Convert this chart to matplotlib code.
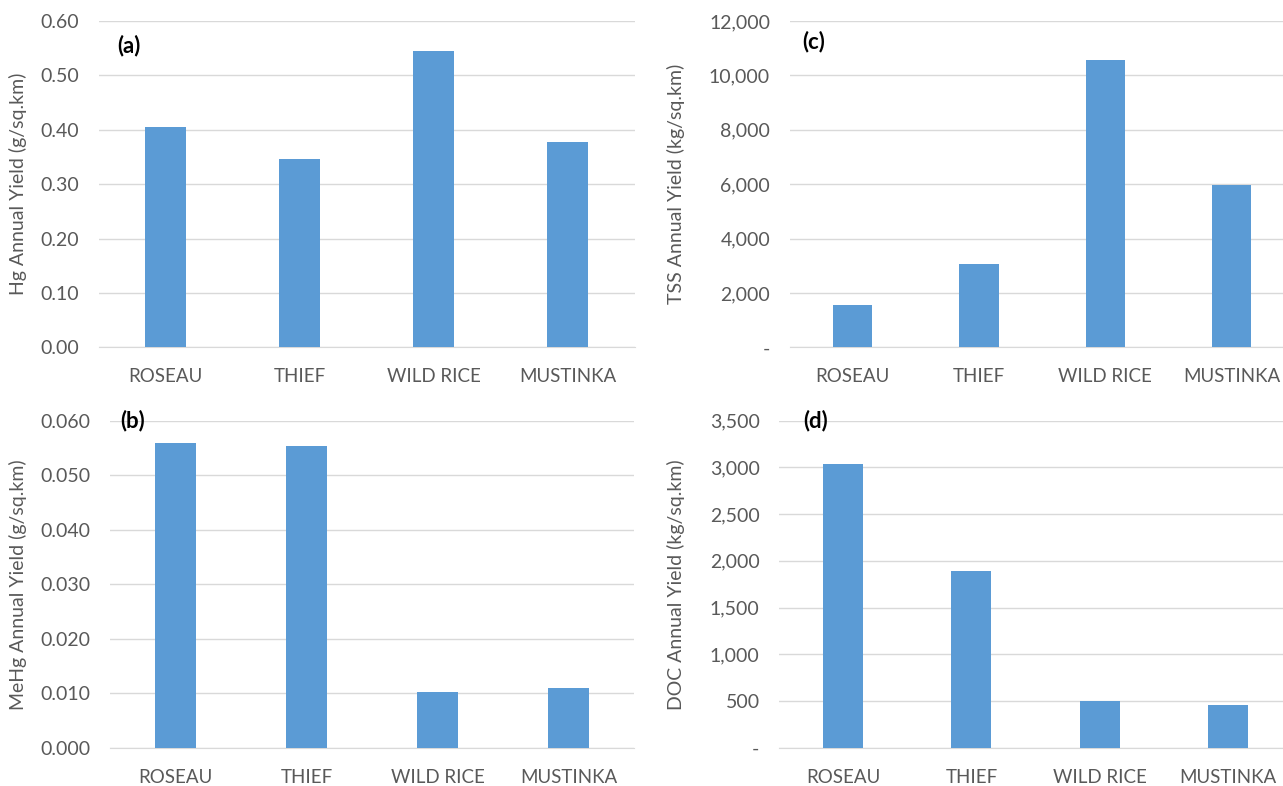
import numpy as np
import matplotlib.pyplot as plt
from matplotlib.ticker import FuncFormatter, MultipleLocator

plt.rcParams['font.family'] = ['Lato', 'DejaVu Sans']

rivers = ['ROSEAU', 'THIEF', 'WILD RICE', 'MUSTINKA']
hg_yield = [0.405, 0.346, 0.545, 0.378]          # g/sq.km
mehg_yield = [0.0559, 0.0553, 0.0102, 0.0110]    # g/sq.km
tss_yield = [1560, 3060, 10580, 5970]            # kg/sq.km
doc_yield = [3040, 1895, 505, 455]               # kg/sq.km

BAR = '#5B9BD5'
TXT = '#595959'
GRID = '#D9D9D9'


def comma_fmt(v, pos):
    # accounting style: zero shown as a dash
    if abs(v) < 1e-9:
        return '-'
    return '{:,.0f}'.format(v)


def dec_fmt(nd):
    return FuncFormatter(lambda v, pos: '{:.{}f}'.format(v, nd))


def panel(ax, vals, ymax, step, fmt, ylabel, tag, tag_xy):
    x = np.arange(len(rivers))
    ax.bar(x, vals, width=0.31, color=BAR, zorder=3)
    ax.set_xlim(-0.5, len(rivers) - 0.5)
    ax.set_ylim(0, ymax)
    ax.yaxis.set_major_locator(MultipleLocator(step))
    ax.yaxis.set_major_formatter(fmt)
    ax.set_xticks(x)
    ax.set_xticklabels(rivers)
    ax.grid(axis='y', color=GRID, linewidth=1.0, zorder=0)
    for s in ['top', 'right', 'left']:
        ax.spines[s].set_visible(False)
    ax.spines['bottom'].set_color(GRID)
    ax.tick_params(axis='both', length=0, colors=TXT)
    ax.tick_params(axis='x', pad=15, labelsize=13.5)
    ax.tick_params(axis='y', pad=14, labelsize=14)
    ax.set_ylabel(ylabel, color=TXT, fontsize=14)
    ax.text(tag_xy[0], tag_xy[1], tag, transform=ax.transAxes, fontsize=16,
            fontweight='bold', color='black', va='center', ha='left',
            zorder=5)


W, H = 1283, 786
fig = plt.figure(figsize=(W / 100, H / 100), dpi=100)


def add_axes(x0, x1, ytop, ybot):
    return fig.add_axes([x0 / W, 1 - ybot / H, (x1 - x0) / W, (ybot - ytop) / H])


ax_a = add_axes(98.5, 634.5, 21, 347.3)
ax_c = add_axes(789.5, 1295, 21, 347.3)
ax_b = add_axes(110, 634, 420.7, 747.7)
ax_d = add_axes(779, 1292, 420.7, 747.7)

panel(ax_a, hg_yield, 0.6, 0.1, dec_fmt(2),
      'Hg Annual Yield (g/sq.km)', '(a)', (0.035, 0.926))
panel(ax_b, mehg_yield, 0.06, 0.01, dec_fmt(3),
      'MeHg Annual Yield (g/sq.km)', '(b)', (0.019, 1.0))
panel(ax_c, tss_yield, 12000, 2000, FuncFormatter(comma_fmt),
      'TSS Annual Yield (kg/sq.km)', '(c)', (0.025, 0.936))
panel(ax_d, doc_yield, 3500, 500, FuncFormatter(comma_fmt),
      'DOC Annual Yield (kg/sq.km)', '(d)', (0.047, 1.0))

ax_a.yaxis.set_label_coords(-0.133, 0.5)
ax_b.yaxis.set_label_coords(-0.158, 0.5)
ax_c.yaxis.set_label_coords(-0.207, 0.5)
ax_d.yaxis.set_label_coords(-0.183, 0.5)

fig.savefig('out.png', dpi=100)
